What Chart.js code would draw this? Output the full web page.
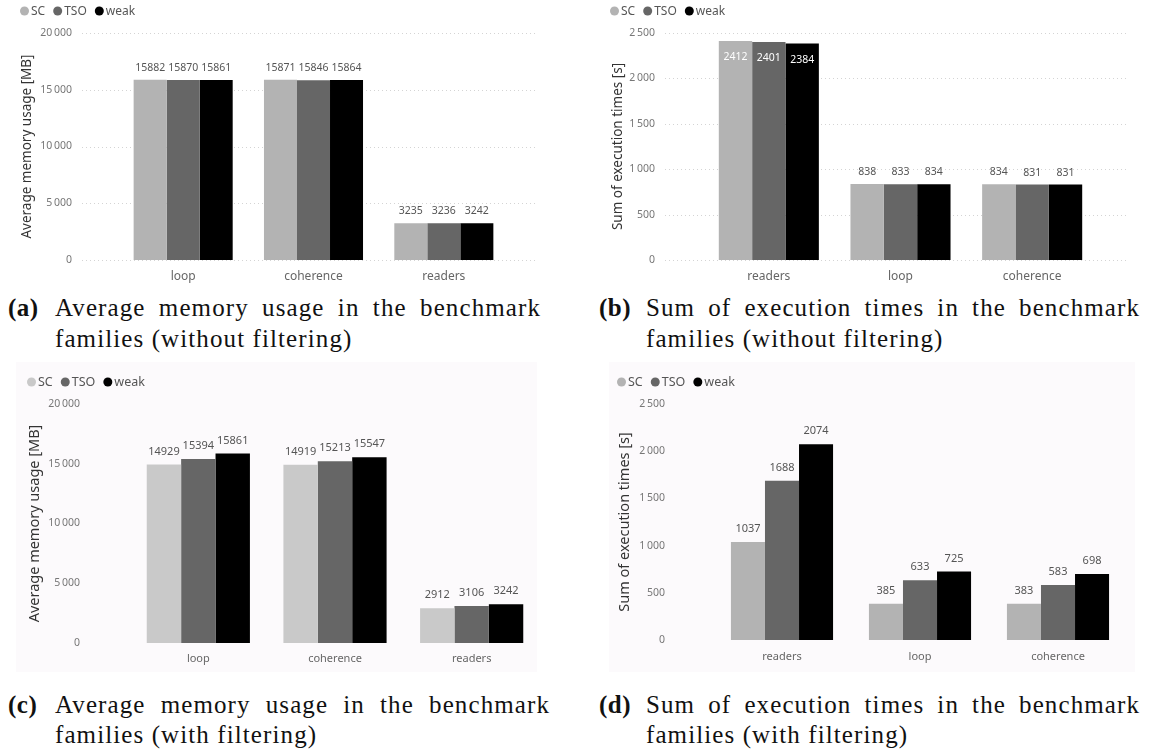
<!DOCTYPE html>
<html>
<head>
<meta charset="utf-8">
<script src="https://cdn.jsdelivr.net/npm/chart.js@4"></script>
<style>
  html, body { margin: 0; padding: 0; background: #fff; }
  body { width: 1151px; height: 755px; position: relative; overflow: hidden; }
  canvas { position: absolute; }
  .panel { position: absolute; background: #fcfafc; }
  .soft { filter: blur(0.35px); }
  .tag, .line { position: absolute; font-family: "Liberation Serif", "DejaVu Serif", serif; font-size: 25px; line-height: 30px; color: #111; white-space: nowrap; letter-spacing: 1.1px; }
  .tag { font-weight: bold; letter-spacing: 0.5px; }
  .just { text-align: justify; text-align-last: justify; white-space: normal; }
</style>
</head>
<body>
<div class="panel" style="left:16px; top:362px; width:521px; height:310px;"></div>
<div class="panel" style="left:609px; top:362px; width:526px; height:310px;"></div>

<canvas id="memPlain" width="575" height="290" style="left:0; top:0;"></canvas>
<canvas id="timePlain" width="576" height="290" style="left:575px; top:0;"></canvas>
<canvas id="memFiltered" class="soft" width="575" height="315" style="left:0; top:362px;"></canvas>
<canvas id="timeFiltered" class="soft" width="576" height="315" style="left:575px; top:362px;"></canvas>

<div class="tag" style="left:8px; top:293px;">(a)</div>
<div class="line just" style="left:55px; top:293px; width:486px;">Average memory usage in the benchmark</div>
<div class="line" style="left:55px; top:324px;">families (without filtering)</div>

<div class="tag" style="left:599px; top:293px;">(b)</div>
<div class="line just" style="left:646px; top:293px; width:494px;">Sum of execution times in the benchmark</div>
<div class="line" style="left:646px; top:324px;">families (without filtering)</div>

<div class="tag" style="left:8px; top:690px;">(c)</div>
<div class="line just" style="left:55px; top:690px; width:495px;">Average memory usage in the benchmark</div>
<div class="line" style="left:55px; top:720px;">families (with filtering)</div>

<div class="tag" style="left:599px; top:690px;">(d)</div>
<div class="line just" style="left:646px; top:690px; width:494px;">Sum of execution times in the benchmark</div>
<div class="line" style="left:646px; top:720px;">families (with filtering)</div>

<script>
// Series shown in every chart
const seriesLabels = ['SC', 'TSO', 'weak'];

// Benchmark families (order differs between memory and time charts)
const memoryFamilies = ['loop', 'coherence', 'readers'];
const timeFamilies = ['readers', 'loop', 'coherence'];

// Average memory usage [MB], without filtering
const memoryPlainSC = [15882, 15871, 3235];
const memoryPlainTSO = [15870, 15846, 3236];
const memoryPlainWeak = [15861, 15864, 3242];

// Sum of execution times [s], without filtering
const timePlainSC = [2412, 838, 834];
const timePlainTSO = [2401, 833, 831];
const timePlainWeak = [2384, 834, 831];

// Average memory usage [MB], with filtering
const memoryFilteredSC = [14929, 14919, 2912];
const memoryFilteredTSO = [15394, 15213, 3106];
const memoryFilteredWeak = [15861, 15547, 3242];

// Sum of execution times [s], with filtering
const timeFilteredSC = [1037, 385, 383];
const timeFilteredTSO = [1688, 633, 583];
const timeFilteredWeak = [2074, 725, 698];

// Value-axis ticks
const memoryTicks = [0, 5000, 10000, 15000, 20000];
const timeTicks = [0, 500, 1000, 1500, 2000, 2500];

const FONT = '"Noto Sans", "Open Sans", sans-serif';

function groupDigits(v) {
  return String(v).replace(/\B(?=(\d{3})+(?!\d))/g, '\u2009');
}

// Round markers followed by the series name, in one row
const dotLegend = {
  id: 'dotLegend',
  afterDraw(chart, args, opts) {
    const ctx = chart.ctx;
    ctx.save();
    ctx.font = opts.font;
    ctx.textBaseline = 'middle';
    ctx.textAlign = 'left';
    let x = opts.x;
    chart.data.datasets.forEach(ds => {
      ctx.fillStyle = ds.backgroundColor;
      ctx.beginPath();
      ctx.arc(x + opts.r, opts.y, opts.r, 0, Math.PI * 2);
      ctx.fill();
      x += opts.r * 2 + opts.gap;
      ctx.fillStyle = opts.color;
      ctx.fillText(ds.label, x, opts.y + 0.5);
      x += ctx.measureText(ds.label).width + opts.spacing;
    });
    ctx.restore();
  }
};

// Dotted horizontal guides at the value ticks, reaching a little past the plot area
const dottedGrid = {
  id: 'dottedGrid',
  beforeDatasetsDraw(chart, args, opts) {
    if (!opts.show) return;
    const {ctx, chartArea: a} = chart;
    const y = chart.scales.y;
    ctx.save();
    ctx.strokeStyle = opts.color;
    ctx.lineWidth = 1;
    ctx.setLineDash([1, 3]);
    y.ticks.forEach(t => {
      const py = Math.round(y.getPixelForValue(t.value)) + 0.5;
      ctx.beginPath();
      ctx.moveTo(a.left - opts.extLeft, py);
      ctx.lineTo(a.right + opts.extRight, py);
      ctx.stroke();
    });
    ctx.restore();
  }
};

// Data labels: above each bar, or inside in white when the bar reaches the top
const valueLabels = {
  id: 'valueLabels',
  afterDatasetsDraw(chart, args, opts) {
    const {ctx, chartArea: a} = chart;
    ctx.save();
    ctx.font = opts.font;
    ctx.textAlign = 'center';
    ctx.textBaseline = 'middle';
    chart.data.datasets.forEach((ds, i) => {
      chart.getDatasetMeta(i).data.forEach((bar, j) => {
        let y = bar.y - opts.gap;
        let color = opts.color;
        if (y - 6 < a.top) {
          y = bar.y + opts.inside;
          color = '#ffffff';
        }
        ctx.fillStyle = color;
        ctx.fillText(String(ds.data[j]), bar.x, y);
      });
    });
    ctx.restore();
  }
};

function buildChart(id, s) {
  const canvas = document.getElementById(id);
  const W = canvas.width, H = canvas.height;
  const hidden = 'rgba(0,0,0,0)';
  return new Chart(canvas, {
    type: 'bar',
    data: {
      labels: s.categories,
      datasets: s.series.map((values, i) => ({
        label: seriesLabels[i],
        data: values,
        backgroundColor: s.colors[i],
        borderWidth: 0,
        barPercentage: 1,
        categoryPercentage: s.catPct
      }))
    },
    options: {
      responsive: false,
      animation: false,
      devicePixelRatio: 1,
      layout: { padding: { left: 0, top: s.area.top, right: W - s.area.right, bottom: 0 } },
      plugins: {
        legend: { display: false },
        tooltip: { enabled: false },
        dotLegend: { x: s.legend.x, y: s.legend.y, r: 4.5, gap: 2, spacing: 8, font: s.legend.font, color: '#555' },
        dottedGrid: { show: s.grid, color: '#d4d4d4', extLeft: s.gridExt[0], extRight: s.gridExt[1] },
        valueLabels: { font: s.valueFont, color: '#555', gap: s.valueGap, inside: 16 }
      },
      scales: {
        x: {
          type: 'category',
          offset: true,
          // invisible tick marks give the gap between the plot and the family names
          grid: { display: false, drawTicks: true, tickLength: s.catPad, tickColor: hidden },
          border: { display: false },
          ticks: { color: '#666', font: { family: FONT, size: s.catFontSize }, padding: 0 },
          afterFit(scale) { scale.height = H - s.area.bottom; }
        },
        y: {
          min: 0,
          max: s.ticks[s.ticks.length - 1],
          grid: { display: false, drawTicks: true, tickLength: s.tickPad, tickColor: hidden },
          border: { display: false },
          afterBuildTicks(scale) { scale.ticks = s.ticks.map(v => ({ value: v })); },
          ticks: {
            color: '#777',
            font: { family: FONT, size: s.tickFontSize },
            padding: 0,
            callback: v => groupDigits(v)
          },
          title: {
            display: true,
            text: s.yTitle,
            color: '#333',
            font: { family: FONT, size: s.titleFontSize },
            padding: { top: s.titleX - s.titleFontSize * 0.6, bottom: 0 }
          },
          afterFit(scale) { scale.width = s.area.left; }
        }
      }
    },
    plugins: [dottedGrid, valueLabels, dotLegend]
  });
}

const topColors = ['#b3b3b3', '#666666', '#000000'];

buildChart('memPlain', {
  categories: memoryFamilies,
  series: [memoryPlainSC, memoryPlainTSO, memoryPlainWeak],
  colors: topColors,
  ticks: memoryTicks,
  yTitle: 'Average memory usage [MB]',
  area: { left: 118, right: 509, top: 33, bottom: 260 },
  catPct: 0.76,
  grid: true, gridExt: [36, 28],
  legend: { x: 20, y: 11, font: '12px ' + FONT },
  tickPad: 46, tickFontSize: 10.5,
  catPad: 9, catFontSize: 12,
  titleX: 27, titleFontSize: 13.5,
  valueFont: '10.5px ' + FONT, valueGap: 12
});

buildChart('timePlain', {
  categories: timeFamilies,
  series: [timePlainSC, timePlainTSO, timePlainWeak],
  colors: topColors,
  ticks: timeTicks,
  yTitle: 'Sum of execution times [s]',
  area: { left: 128, right: 523, top: 33, bottom: 260 },
  catPct: 0.76,
  grid: true, gridExt: [38, 29],
  legend: { x: 35, y: 11, font: '12px ' + FONT },
  tickPad: 48, tickFontSize: 10.5,
  catPad: 9, catFontSize: 12,
  titleX: 43, titleFontSize: 13.5,
  valueFont: '10.5px ' + FONT, valueGap: 12
});

buildChart('memFiltered', {
  categories: memoryFamilies,
  series: [memoryFilteredSC, memoryFilteredTSO, memoryFilteredWeak],
  colors: ['#c9c9c9', '#666666', '#000000'],
  ticks: memoryTicks,
  yTitle: 'Average memory usage [MB]',
  area: { left: 130, right: 540, top: 42, bottom: 281 },
  catPct: 0.755,
  grid: false, gridExt: [0, 0],
  legend: { x: 27, y: 20, font: '12.5px ' + FONT },
  tickPad: 50, tickFontSize: 10.5,
  catPad: 9, catFontSize: 11,
  titleX: 35, titleFontSize: 14.5,
  valueFont: '11px ' + FONT, valueGap: 13
});

buildChart('timeFiltered', {
  categories: timeFamilies,
  series: [timeFilteredSC, timeFilteredTSO, timeFilteredWeak],
  colors: ['#b3b3b3', '#666666', '#000000'],
  ticks: timeTicks,
  yTitle: 'Sum of execution times [s]',
  area: { left: 138, right: 552, top: 42, bottom: 278 },
  catPct: 0.74,
  grid: false, gridExt: [0, 0],
  legend: { x: 42, y: 20, font: '12.5px ' + FONT },
  tickPad: 48, tickFontSize: 10.5,
  catPad: 10, catFontSize: 11,
  titleX: 50, titleFontSize: 14.5,
  valueFont: '11px ' + FONT, valueGap: 13
});
</script>
</body>
</html>
